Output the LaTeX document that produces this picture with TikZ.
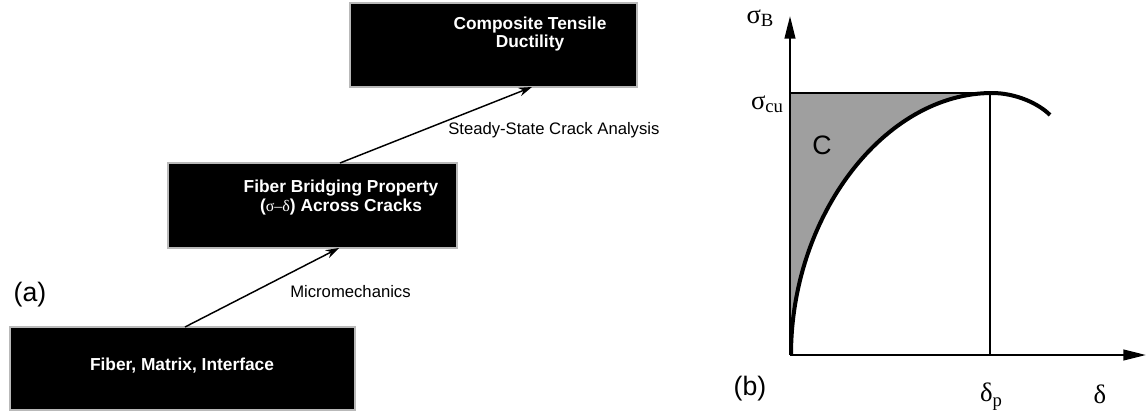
\documentclass[tikz,border=0pt]{standalone}
\usepackage{fontspec}
\setmainfont{Liberation Sans}
\newfontfamily\serifgr{Liberation Serif}
\usetikzlibrary{arrows.meta,calc}
\tikzset{
  blackbox/.style={draw=gray!55,line width=0.8pt,fill=black,inner sep=0pt},
  boxtext/.style={text=white,font=\bfseries\fontsize{13}{14}\selectfont,align=center,inner sep=0pt},
  conn/.style={line width=1.1pt,-{Stealth[length=10pt,width=6.5pt]}},
  conntext/.style={font=\fontsize{12.5}{14}\selectfont,inner sep=0pt,anchor=west},
  axis/.style={line width=1.6pt,-{Triangle[length=17pt,width=8pt]}},
  thinline/.style={line width=1.1pt},
  bigtext/.style={font=\fontsize{20}{22}\selectfont,inner sep=0pt},
  grk/.style={font=\serifgr\fontsize{20}{22}\selectfont,inner sep=0pt}
}
\begin{document}
\begin{tikzpicture}[x=0.75pt,y=-0.75pt]
\useasboundingbox (0,0) rectangle (1147,414);
% boxes
\node[blackbox,minimum width=215.25pt,minimum height=63pt] (top) at (493.5,45) {};
\node[blackbox,minimum width=216.75pt,minimum height=63.75pt] (mid) at (312.5,205.5) {};
\node[blackbox,minimum width=258.75pt,minimum height=62.25pt] (bot) at (182.5,368.5) {};
\node[boxtext] (toptext) at (530,34) {Composite Tensile\\Ductility};
\node[boxtext] (midtext) at (341,197.5) {Fiber Bridging Property\\({\mdseries\serifgr\fontsize{12}{14}\selectfont σ–δ}) Across Cracks};
\node[boxtext] (bottext) at (182,366) {Fiber, Matrix, Interface};
% connectors
\coordinate (a1) at (185,327);
\coordinate (a2) at (339,248);
\coordinate (b1) at (340,163);
\coordinate (b2) at (532,87);
\draw[conn] (a1) -- (a2);
\draw[conn] (b1) -- (b2);
\node[conntext] (lab1) at (290,292) {Micromechanics};
\node[conntext] (lab2) at (448,130) {Steady-State Crack Analysis};
\node[bigtext] (pa) at (30,295) {(a)};
\node[bigtext] (pb) at (750,389) {(b)};
% plot
\coordinate (O) at (790,355);
\coordinate (Ytop) at (790,16);
\coordinate (Xend) at (1146,355);
\coordinate (P) at (992,93);
\coordinate (Q) at (790,93);
\coordinate (Pb) at (990,355);
\coordinate (E) at (1050,115);
\fill[gray!75] (Q) -- (P) .. controls (885,93) and (791,215) .. (791,355) -- cycle;
\draw[thinline] (Q) -- (P);
\draw[thinline] (990,93) -- (Pb);
\draw[line width=3pt] (791,355) .. controls (791,215) and (885,93) .. (P) .. controls (1015,93) and (1038,103) .. (E);
\draw[axis] (O) -- (Ytop);
\draw[axis] (O) -- (Xend);
\node[grk] (sb) at (760,18) {σ\raisebox{-2pt}{\fontsize{14}{15}\selectfont B}};
\node[grk] (scu) at (767,104) {σ\raisebox{-2pt}{\fontsize{14}{15}\selectfont cu}};
\node[font=\fontsize{20}{22}\selectfont,inner sep=0pt] (C) at (822,145) {C};
\node[grk] (dp) at (991,397) {δ\raisebox{-4pt}{\fontsize{14}{15}\selectfont p}};
\node[grk] (d) at (1100,394) {δ};
\end{tikzpicture}
\end{document}
